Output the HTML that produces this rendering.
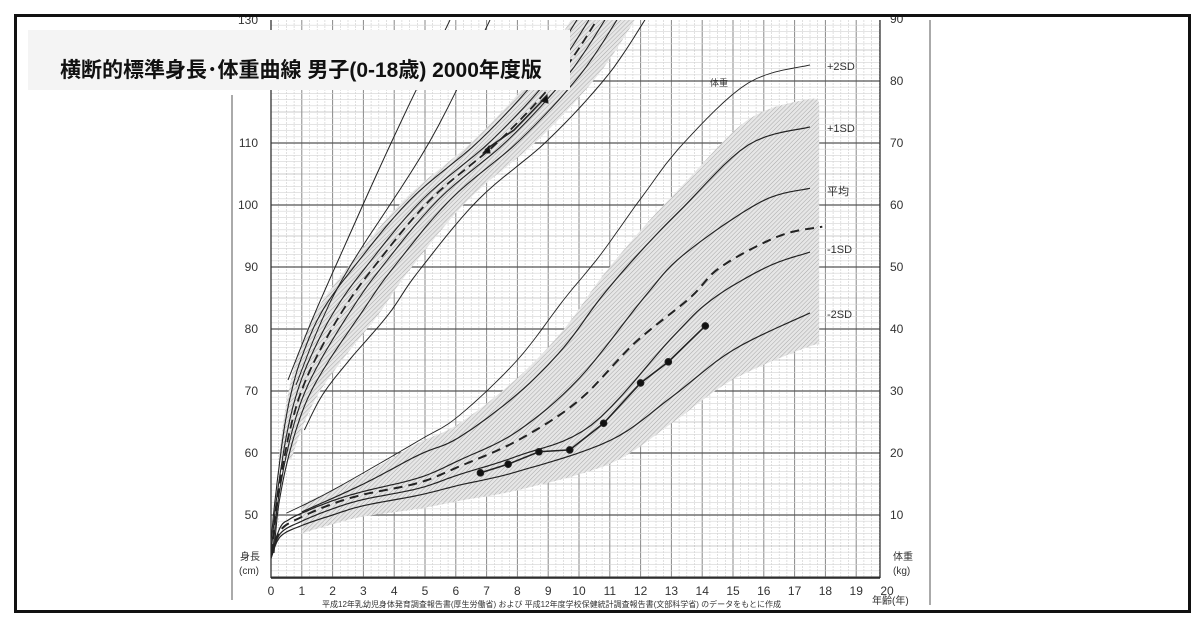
<!DOCTYPE html>
<html><head><meta charset="utf-8"><style>
body{margin:0;background:#fff;width:1200px;height:629px;overflow:hidden}
svg{position:absolute;left:0;top:0}
text{font-family:"Liberation Sans","Noto Sans CJK JP",sans-serif}
</style></head><body>
<svg id="s" width="1200" height="629" xmlns="http://www.w3.org/2000/svg">
<defs>
<pattern id="hat" width="3" height="3" patternUnits="userSpaceOnUse" patternTransform="rotate(45)">
<rect width="3" height="3" fill="#e6e6e6"/><line x1="0" y1="0" x2="0" y2="3" stroke="#a8a8a8" stroke-width="1"/>
</pattern>
<clipPath id="cl"><rect x="271" y="20" width="609" height="558"/></clipPath>
</defs>
<rect x="0" y="0" width="1200" height="629" fill="#fff"/>
<g id="grid"></g>
<g id="bands" clip-path="url(#cl)"></g>
<g id="curves" fill="none" stroke="#222" clip-path="url(#cl)"></g>
<line x1="232" y1="95" x2="232" y2="600" stroke="#555" stroke-width="1"/>
<line x1="930" y1="20" x2="930" y2="605" stroke="#555" stroke-width="1"/>
<rect x="28" y="30" width="542" height="60" fill="#f4f4f4"/>
<text x="60" y="77" font-size="21" font-weight="bold" fill="#111">横断的標準身長･体重曲線 男子(0-18歳) 2000年度版</text>
<g id="labels" font-size="11" fill="#333"></g>
<rect x="15.5" y="15.5" width="1174" height="596" fill="none" stroke="#111" stroke-width="3"/>
</svg>
<script>
const NS="http://www.w3.org/2000/svg";
function el(p,t,a,txt){const e=document.createElementNS(NS,t);for(const k in a)e.setAttribute(k,a[k]);if(txt!==undefined)e.textContent=txt;document.getElementById(p).appendChild(e);return e;}
const X=a=>271+a*30.8, YC=h=>577-(h-40)*6.2, YK=w=>577-w*6.2;
for(let i=0;i<=80;i++){const x=271+i*30.8/4; if(x>880)break;const maj=i%4==0;el('grid','line',{x1:x,y1:20,x2:x,y2:577,stroke:maj?'#888':'#ccc','stroke-width':maj?1:0.6,'stroke-dasharray':maj?'':'2,1'});}
for(let k=0;k<=90;k+=1){const y=YK(k);if(y<20)break;const maj=k%10==0,mid=k%5==0;el('grid','line',{x1:271,y1:y,x2:880,y2:y,stroke:maj?'#555':mid?'#999':'#d4d4d4','stroke-width':maj?1.2:0.6});}
el('grid','line',{x1:271,y1:20,x2:271,y2:578,stroke:'#333','stroke-width':1.3});
el('grid','line',{x1:880,y1:20,x2:880,y2:578,stroke:'#333','stroke-width':1.3});
el('grid','line',{x1:271,y1:578,x2:880,y2:578,stroke:'#222','stroke-width':1.5});
for(let a=0;a<=20;a++)el('labels','text',{x:X(a),y:595,'text-anchor':'middle','font-size':12},a);
for(let h=50;h<=110;h+=10)el('labels','text',{x:258,y:YC(h)+4,'text-anchor':'end','font-size':12},h);
el('labels','text',{x:258,y:24,'text-anchor':'end','font-size':12},130);
for(let w=10;w<=90;w+=10)el('labels','text',{x:890,y:YK(w)+4,'font-size':12},w);
el('labels','text',{x:240,y:560,'font-size':10},'身長');
el('labels','text',{x:239,y:574,'font-size':10},'(cm)');
el('labels','text',{x:893,y:560,'font-size':10},'体重');
el('labels','text',{x:893,y:574,'font-size':10},'(kg)');
el('labels','text',{x:872,y:604,'font-size':10},'年齢(年)');
el('labels','text',{x:322,y:607,'font-size':8},'平成12年乳幼児身体発育調査報告書(厚生労働省) および 平成12年度学校保健統計調査報告書(文部科学省) のデータをもとに作成');
[['+2SD',66],['+1SD',128],['平均',191],['-1SD',249],['-2SD',314]].forEach(([t,y])=>el('labels','text',{x:827,y:y+4,'font-size':11},t));
el('labels','text',{x:710,y:86,'font-size':9},'体重');
function cr(P,n){n=n||8;const o=[];for(let i=0;i<P.length-1;i++){const p0=P[Math.max(0,i-1)],p1=P[i],p2=P[i+1],p3=P[Math.min(P.length-1,i+2)];for(let j=0;j<n;j++){const t=j/n,t2=t*t,t3=t2*t;const f=(a,b,c,d)=>0.5*(2*b+(-a+c)*t+(2*a-5*b+4*c-d)*t2+(-a+3*b-3*c+d)*t3);o.push([f(p0[0],p1[0],p2[0],p3[0]),f(p0[1],p1[1],p2[1],p3[1])]);}}o.push(P[P.length-1]);return o;}
const pd=P=>'M'+P.map(p=>p[0].toFixed(1)+','+p[1].toFixed(1)).join('L');
const W={
p2:[[0.5,10.3],[2,14],[4.8,22],[6.1,26],[8,35],[9.5,44.7],[10.7,52],[12,61],[13.4,70],[15.5,79.7],[17.5,82.6]],
p1:[[1,10.5],[3,15],[4.8,19.7],[6.1,22.5],[8,29.5],[9.5,37],[10.7,45],[12,52.5],[13.4,59.7],[15.5,69.7],[17.5,72.6]],
m:[[0,3.5],[0.3,8],[0.6,9.3],[1,10.3],[2,12.3],[3,13.8],[4.8,16],[6.1,18.8],[8,23.5],[10,32],[12.1,45],[13.4,52],[15.9,60.5],[17.5,62.7]],
d:[[0,3.3],[0.3,7.5],[1,9.7],[2,11.8],[3,13.3],[4.8,15.2],[6.1,17.8],[8,22],[10,28.5],[11.8,37.7],[13.6,45],[14.6,50],[16.5,55],[17.9,56.5]],
n1:[[0,3.1],[0.3,7],[1,9],[2,11],[3,12.5],[4.8,14.3],[6.1,16.5],[8,19.5],[10.4,24.5],[13,38.5],[14.3,44.7],[16.1,50],[17.5,52.4]],
n2:[[0,3],[0.3,6.5],[1,8.3],[2,10],[3,11.5],[4.8,13.2],[6.1,14.8],[8,17],[11,22],[13,29],[15,36.6],[17.5,42.6]]};
const wp=t=>cr(t.map(p=>[X(p[0]),YK(p[1])]));
const HM=[[272,553],[276,510],[282,470],[290,430],[300,395],[315,360],[340,315],[370,272],[430,200],[500,140],[560,75],[600,15]];
function hp(dx,ymax){const s=x=>Math.min(1,Math.max(0.1,(x-272)/60));return cr(HM.filter(p=>p[1]<=(ymax||999)).map(p=>[p[0]+dx*s(p[0]),p[1]]));}
(function(){const up=hp(-26).filter(p=>p[1]<460),lo=hp(38).filter(p=>p[1]<460);el('bands','path',{d:pd(up)+'L'+pd(lo.reverse()).slice(1)+'Z',fill:'url(#hat)'});
const u=W.p1.map(p=>[p[0],p[1]+1+0.2*p[0]]).filter(p=>p[0]<=17.8);u.push([17.8,76]);
const l=W.n2.map(p=>[p[0],p[1]-1-0.25*p[0]]).filter(p=>p[0]>=1);l.push([17.8,37]);
const U=wp(u),L=wp(l);el('bands','path',{d:pd(U)+'L'+pd(L.reverse()).slice(1)+'Z',fill:'url(#hat)'});})();
[-20,-8,8,20].forEach(dx=>el('curves','path',{d:pd(hp(dx)),'stroke-width':1.1}));
el('curves','path',{d:pd(hp(0)),'stroke-width':1.8,'stroke-dasharray':'9,5'});
el('curves','path',{d:pd(cr([[288,380],[312,320],[337,263],[392,141],[450,20]])),'stroke-width':1});
el('curves','path',{d:pd(cr([[296,385],[322,320],[352,263],[430,141],[490,20]])),'stroke-width':1});
el('curves','path',{d:pd(hp(48,430)),'stroke-width':1});
['p2','p1','m','n1','n2'].forEach(k=>el('curves','path',{d:pd(wp(W[k])),'stroke-width':k=='p2'?0.9:1.2}));
el('curves','path',{d:pd(wp(W.d)),'stroke-width':2,'stroke-dasharray':'9,6'});
const pts=[[6.8,16.8],[7.7,18.2],[8.7,20.2],[9.7,20.5],[10.8,24.8],[12,31.3],[12.9,34.7],[14.1,40.5]];
el('curves','path',{d:'M'+pts.map(p=>X(p[0])+','+YK(p[1])).join('L'),'stroke-width':1.6});
pts.forEach(p=>el('curves','circle',{cx:X(p[0]),cy:YK(p[1]),r:3.3,fill:'#111'}));
el('curves','path',{d:`M485,150L514,130L545,98`,'stroke-width':1.6});
el('curves','path',{d:`M483,153L489,146L490,153Z M541,101L547,95L548,103Z`,fill:'#111'});
</script>
</body></html>
